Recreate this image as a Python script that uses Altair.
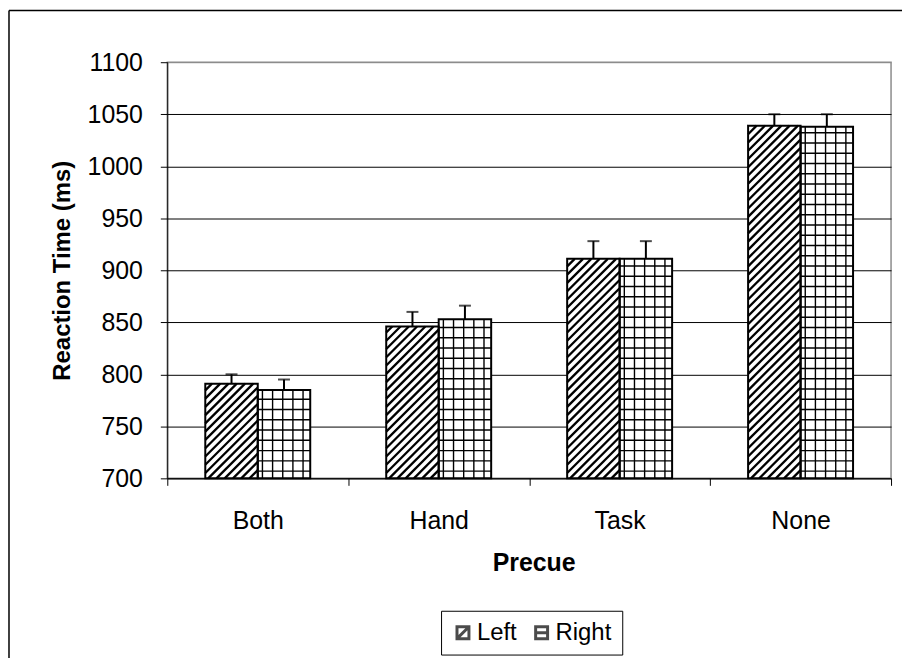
import altair as alt
import pandas as pd

# ---- data ----
precue = ["Both", "Hand", "Task", "None"]
series = ["Left", "Right"]
left_rt = [791, 846, 911, 1039]
right_rt = [785, 853, 911, 1038]
left_err = [9, 14, 17, 11]
right_err = [10, 13, 17, 12]
y_ticks = [700, 750, 800, 850, 900, 950, 1000, 1050, 1100]

# ---- layout ----
W, H = 727, 418
Y_MIN, Y_MAX = 700, 1100
BAR_FRAC = 0.29  # width of one bar as a fraction of a category slot
FONT = "Liberation Sans"

sx = W / len(precue)
sy = H / (Y_MAX - Y_MIN)

rows = []
for i, p in enumerate(precue):
    c = i + 0.5
    rows.append(dict(precue=p, series="Left", value=left_rt[i], err=left_err[i],
                     x0=c - BAR_FRAC, x1=c, xc=c - BAR_FRAC / 2))
    rows.append(dict(precue=p, series="Right", value=right_rt[i], err=right_err[i],
                     x0=c, x1=c + BAR_FRAC, xc=c + BAR_FRAC / 2))
bars = pd.DataFrame(rows)
bars["top"] = bars["value"] + bars["err"]

# ---- hatch patterns derived from each bar's extent ----
diag, grid = [], []
for r in rows:
    w = (r["x1"] - r["x0"]) * sx
    h = (r["value"] - Y_MIN) * sy
    if r["series"] == "Left":
        d = 8.3
        b = -w
        while b < h:
            u0 = max(0.0, -b)
            u1 = min(w, h - b)
            if u1 > u0:
                diag.append(dict(x=r["x0"] + u0 / sx, x2=r["x0"] + u1 / sx,
                                 y=Y_MIN + (u0 + b) / sy, y2=Y_MIN + (u1 + b) / sy))
            b += d
    else:
        u = 4.7
        while u < w - 1:
            xv = r["x0"] + u / sx
            grid.append(dict(x=xv, x2=xv, y=Y_MIN, y2=r["value"]))
            u += 10.2
        v = 7.3
        while v < h - 1:
            yv = Y_MIN + v / sy
            grid.append(dict(x=r["x0"], x2=r["x1"], y=yv, y2=yv))
            v += 10.3
diag = pd.DataFrame(diag)
grid = pd.DataFrame(grid)

xq = alt.Scale(domain=[0, len(precue)], nice=False, zero=False)
ys = alt.Scale(domain=[Y_MIN, Y_MAX], nice=False, zero=False)

path_left = "M-1,-1L1,-1L1,1L-1,1Z M-1,1L1,-1"
path_right = "M-1,-1L1,-1L1,1L-1,1Z M-1,0L1,0"

legend_def = alt.Legend(orient="none", legendX=275, legendY=551,
                        direction="horizontal", title=None,
                        strokeColor="black", padding=10,
                        labelFontSize=24, labelFont=FONT, labelColor="black",
                        symbolSize=144, symbolStrokeWidth=3,
                        labelOffset=2, columnPadding=12)

# guide layer: carries the category axis, the value axis and the legend;
# its points sit hidden behind the bars (drawn first)
guide_layer = alt.Chart(bars).transform_calculate(
    mid=f"(datum.value + {Y_MIN}) / 2"
).mark_point(filled=False, strokeWidth=2, size=100).encode(
    x=alt.X("precue:N", sort=precue,
            scale=alt.Scale(type="band", paddingInner=0, paddingOuter=0),
            axis=alt.Axis(title="Precue", tickBand="extent", labelAngle=0,
                          tickSize=7, tickColor="black", domainColor="black",
                          labelFontSize=25, labelPadding=23, labelColor="black",
                          titleFontSize=25, titleFontWeight="bold", titleColor="black",
                          titleX=368, titleY=93, titleBaseline="alphabetic", grid=False)),
    y=alt.Y("mid:Q", scale=ys,
            axis=alt.Axis(title="Reaction Time (ms)", orient="left", values=y_ticks,
                          format="d", grid=True,
                          gridColor={"condition": {"test": "datum.value == 1100", "value": "#8c8c8c"},
                                     "value": "black"},
                          gridWidth=1, tickSize=7, tickColor="black", domainColor="black",
                          labelFontSize=25, labelPadding=18, labelColor="black",
                          titleFontSize=24, titleFontWeight="bold", titleColor="black",
                          titleX=-98, titleY=H / 2, titleAngle=270,
                          titleBaseline="alphabetic", titleAlign="center")),
    color=alt.Color("series:N",
                    scale=alt.Scale(domain=series, range=["black", "black"]),
                    legend=legend_def),
    shape=alt.Shape("series:N",
                    scale=alt.Scale(domain=series, range=[path_left, path_right]),
                    legend=legend_def),
)

fill_layer = alt.Chart(bars).mark_rect(fill="white").encode(
    x=alt.X("x0:Q", scale=xq, axis=None), x2="x1:Q",
    y=alt.Y("value:Q", scale=ys, axis=None), y2=alt.datum(Y_MIN),
)

diag_layer = alt.Chart(diag).mark_rule(color="black", strokeWidth=2.3).encode(
    x=alt.X("x:Q", scale=xq, axis=None), x2="x2:Q",
    y=alt.Y("y:Q", scale=ys, axis=None), y2="y2:Q",
)

grid_layer = alt.Chart(grid).mark_rule(color="black", strokeWidth=1.4).encode(
    x=alt.X("x:Q", scale=xq, axis=None), x2="x2:Q",
    y=alt.Y("y:Q", scale=ys, axis=None), y2="y2:Q",
)

outline_layer = alt.Chart(bars).mark_rect(fillOpacity=0, stroke="black", strokeWidth=2).encode(
    x=alt.X("x0:Q", scale=xq, axis=None), x2="x1:Q",
    y=alt.Y("value:Q", scale=ys, axis=None), y2=alt.datum(Y_MIN),
)

stem_layer = alt.Chart(bars).mark_rule(color="black", strokeWidth=2).encode(
    x=alt.X("xc:Q", scale=xq, axis=None),
    y=alt.Y("value:Q", scale=ys, axis=None), y2="top:Q",
)

cap_layer = alt.Chart(bars).mark_tick(orient="horizontal", size=12, thickness=2, color="black").encode(
    x=alt.X("xc:Q", scale=xq, axis=None),
    y=alt.Y("top:Q", scale=ys, axis=None),
)

frame = pd.DataFrame({"k": [0]})
frame_left = alt.Chart(frame).mark_rule(color="black", strokeWidth=1.5).encode(
    x=alt.value(-159), y=alt.value(-52), y2=alt.value(H + 240))
frame_top = alt.Chart(frame).mark_rule(color="black", strokeWidth=1.5).encode(
    x=alt.value(-159), x2=alt.value(W + 40), y=alt.value(-52))

chart = alt.layer(
    guide_layer, fill_layer, diag_layer, grid_layer, outline_layer,
    stem_layer, cap_layer, frame_left, frame_top
).resolve_scale(x="independent").resolve_axis(y="independent").properties(
    width=W, height=H,
    autosize=alt.AutoSizeParams(type="none"),
    padding={"left": 160, "top": 53, "right": 11, "bottom": 179},
).configure(font=FONT, background="white").configure_view(
    stroke="#8c8c8c", strokeWidth=1.5
)

chart.save("out.html", embed_options={"renderer": "svg", "actions": False})
